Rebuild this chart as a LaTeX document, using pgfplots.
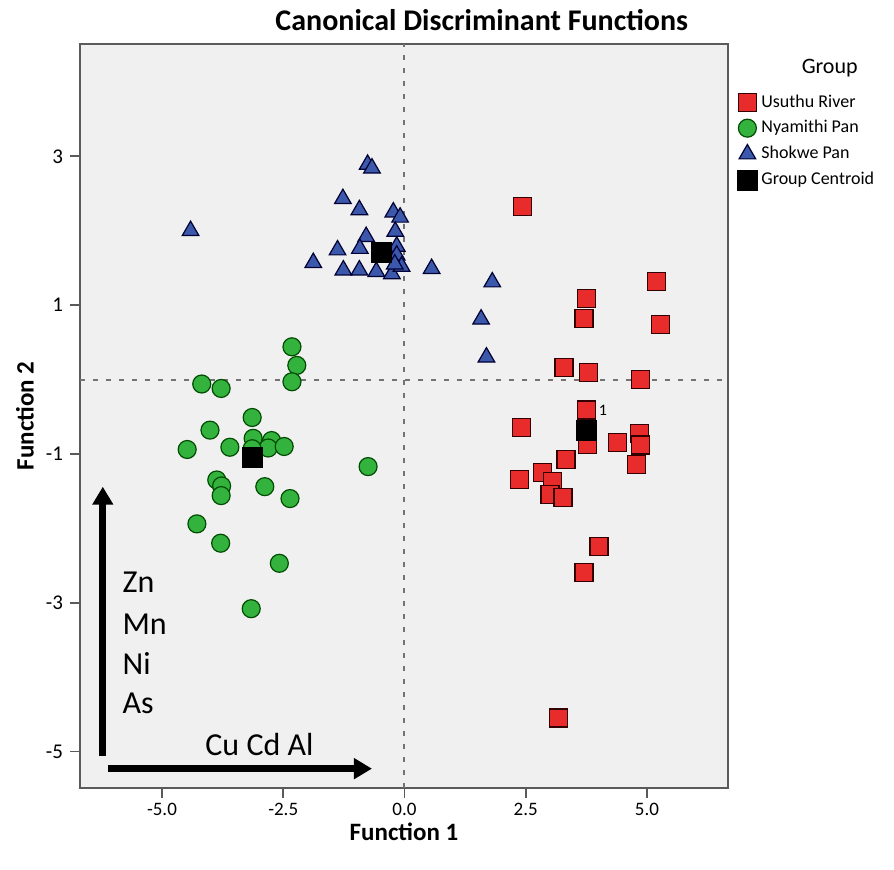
\documentclass[border=0pt]{standalone}
\usepackage{fontspec}
\setmainfont{Carlito}
\usepackage{pgfplots}
\pgfplotsset{compat=1.18}
\usetikzlibrary{arrows.meta}
\definecolor{usred}{RGB}{232,44,44}
\definecolor{nygreen}{RGB}{52,178,62}
\definecolor{shblue}{RGB}{60,88,170}
\definecolor{bgc}{RGB}{240,240,240}
\definecolor{axc}{RGB}{90,90,90}
\begin{document}
\begin{tikzpicture}
\path[use as bounding box] (-40pt,-41pt) rectangle (407pt,394pt);
\begin{axis}[
  at={(0,0)}, anchor=south west,
  width=324pt, height=372pt, scale only axis,
  xmin=-6.69, xmax=6.67, ymin=-5.49, ymax=4.51,
  clip=false,
  axis background/.style={fill=bgc},
  axis line style={draw=axc, line width=0.9pt},
  xtick={-5,-2.5,0,2.5,5}, xticklabels={-5.0,-2.5,0.0,2.5,5.0},
  ytick={-5,-3,-1,1,3}, yticklabels={-5,-3,-1,1,3},
  tick align=outside, tick pos=left,
  major tick length=5pt,
  tick style={draw=axc, line width=0.9pt},
  x tick label style={font=\fontsize{9.5}{11}\selectfont, yshift=1pt},
  y tick label style={font=\fontsize{10.5}{12}\selectfont},
  xlabel={Function 1},
  xlabel style={at={(axis description cs:0.5,-0.059)}, anchor=center, inner sep=0pt, font=\bfseries\fontsize{12.5}{15}\selectfont},
  ylabel={Function 2},
  ylabel style={at={(axis description cs:-0.0849,0.5)}, anchor=center, inner sep=0pt, font=\bfseries\fontsize{12.5}{15}\selectfont},
  title={Canonical Discriminant Functions},
  title style={at={(axis description cs:0.620,1.0296)}, anchor=center, yshift=-5pt, inner sep=0pt, font=\bfseries\fontsize{15}{18}\selectfont},
  legend style={at={(axis description cs:1.0139,0.938)}, anchor=north west, draw=none, fill=none,
    font=\fontsize{9}{11}\selectfont, inner sep=0pt, row sep=1.2pt, cells={anchor=west}},
  legend image code/.code={\draw[mark repeat=2,mark phase=2,#1] plot coordinates {(0pt,0pt)(4pt,0pt)(6pt,0pt)};},
]
\addplot[only marks, mark=square*, mark size=4.5pt, mark options={fill=usred, draw=black!80!red, line width=0.6pt}] coordinates {
(2.44,2.33) (5.20,1.32) (3.76,1.09) (3.70,0.82) (5.28,0.74) (3.29,0.16) (3.79,0.09) (4.86,0.00)
(3.76,-0.41) (2.42,-0.65) (4.84,-0.72) (3.78,-0.87) (4.40,-0.85) (4.87,-0.88) (4.79,-1.14)
(3.33,-1.08) (2.37,-1.34) (2.85,-1.25) (3.06,-1.37) (3.00,-1.54) (3.27,-1.59)
(4.01,-2.24) (3.70,-2.59) (3.17,-4.55)
};
\addlegendentry{Usuthu River}
\addplot[only marks, mark=*, mark size=4.5pt, mark options={fill=nygreen, draw=black!70!green, line width=0.6pt}] coordinates {
(-2.32,0.44) (-2.22,0.19) (-2.32,-0.03) (-4.18,-0.06) (-3.78,-0.12) (-3.14,-0.51) (-4.01,-0.68)
(-4.48,-0.94) (-3.60,-0.91) (-3.12,-0.79) (-2.74,-0.82) (-2.81,-0.92) (-2.48,-0.90) (-3.14,-0.93)
(-0.75,-1.17) (-3.87,-1.35) (-3.77,-1.43) (-3.78,-1.56) (-2.88,-1.44) (-2.36,-1.60)
(-4.28,-1.94) (-3.79,-2.20) (-2.58,-2.47) (-3.16,-3.08)
};
\addlegendentry{Nyamithi Pan}
\addplot[only marks, mark=triangle*, mark size=4.8pt, mark options={fill=shblue, draw=black!80!blue, line width=0.6pt}] coordinates {
(-4.41,2.00) (-0.76,2.89) (-0.67,2.84) (-1.27,2.43) (-0.93,2.28) (-0.23,2.25) (-0.09,2.18)
(-0.19,1.99) (-0.79,1.92) (-1.38,1.74) (-0.92,1.76) (-0.16,1.79) (-0.16,1.67) (-1.88,1.57)
(-1.26,1.47) (-0.93,1.47) (-0.58,1.45) (-0.26,1.42) (-0.06,1.52) (-0.20,1.55) (0.56,1.49)
(1.81,1.31) (1.58,0.81) (1.69,0.30)
};
\addlegendentry{Shokwe Pan}
\addplot[only marks, mark=square*, mark size=5pt, mark options={fill=black, draw=black}] coordinates {
(3.76,-0.69) (-3.14,-1.04) (-0.47,1.71)
};
\addlegendentry{Group Centroid}
\draw[black!55, line width=1pt, dash pattern=on 2.5pt off 4pt] (axis cs:0,-5.49) -- (axis cs:0,4.51);
\draw[black!55, line width=1pt, dash pattern=on 2.5pt off 4pt] (axis cs:-6.69,0) -- (axis cs:6.67,0);
\node[font=\fontsize{8}{10}\selectfont, inner sep=0pt] at (axis cs:4.09,-0.41) {1};
\node[font=\fontsize{8}{10}\selectfont, inner sep=0pt] at (axis cs:-2.77,-0.79) {2};
\draw[line width=3.5pt, -{Triangle[length=9pt,width=10pt]}] (axis cs:-6.22,-5.06) -- (axis cs:-6.22,-1.44);
\draw[line width=3.5pt, -{Triangle[length=9pt,width=10pt]}] (axis cs:-6.11,-5.23) -- (axis cs:-0.67,-5.23);
\node[anchor=base west, inner sep=0pt, font=\fontsize{16}{19}\selectfont] at (axis cs:-5.82,-2.86) {Zn};
\node[anchor=base west, inner sep=0pt, font=\fontsize{16}{19}\selectfont] at (axis cs:-5.82,-3.43) {Mn};
\node[anchor=base west, inner sep=0pt, font=\fontsize{16}{19}\selectfont] at (axis cs:-5.82,-3.96) {Ni};
\node[anchor=base west, inner sep=0pt, font=\fontsize{16}{19}\selectfont] at (axis cs:-5.82,-4.49) {As};
\node[anchor=base, inner sep=0pt, font=\fontsize{16}{19}\selectfont] at (axis cs:-2.99,-5.05) {Cu Cd Al};
\node[anchor=center, font=\fontsize{11}{13}\selectfont] at (axis description cs:1.157,0.968) {Group};
\end{axis}
\end{tikzpicture}
\end{document}
